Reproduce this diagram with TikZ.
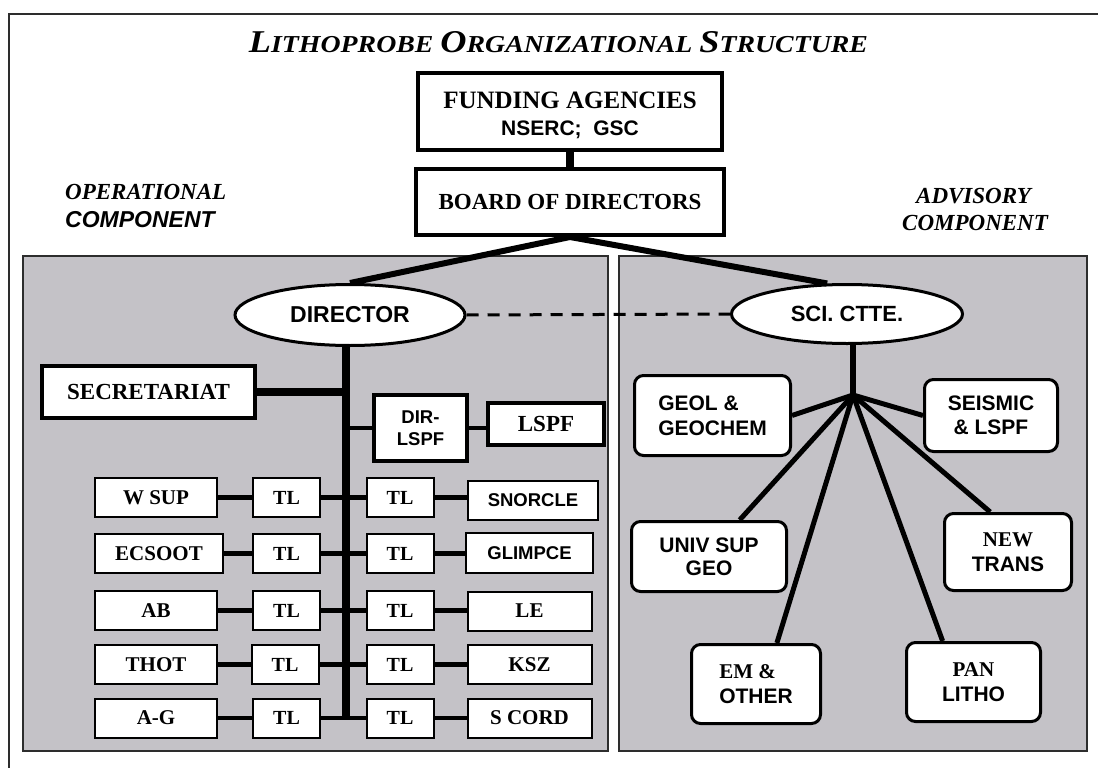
\documentclass[tikz,border=0pt]{standalone}
\usepackage{fontspec}
\setmainfont{Liberation Serif}
\setsansfont{Liberation Sans}
\usepackage{graphicx}
\usetikzlibrary{shapes.geometric}

\definecolor{panelgrey}{RGB}{196,194,199}
\definecolor{framegrey}{RGB}{45,45,45}
\newcommand{\setsize}[1]{\fontsize{#1}{#1}\selectfont}

\tikzset{
	plainbox/.style={draw, line width=2pt, fill=white, inner sep=0pt, minimum height=39pt, font=\setsize{21}\bfseries},
	tlbox/.style={plainbox, minimum width=67pt, font=\setsize{20}\bfseries},
	sansbox/.style={plainbox, font=\sffamily\setsize{18.5}\bfseries},
	heavybox/.style={draw, line width=4pt, fill=white, inner sep=0pt},
	oval/.style={ellipse, draw, line width=3pt, fill=white, inner sep=0pt, font=\sffamily\setsize{23}\bfseries},
	softbox/.style={draw, line width=3pt, fill=white, rounded corners=9pt, inner sep=0pt, align=center, font=\sffamily\setsize{21}\bfseries},
	link/.style={line width=4.5pt},
	trunk/.style={line width=8pt}
}

\begin{document}
\begin{tikzpicture}[x=1pt, y=-1pt]
	\useasboundingbox (0,0) rectangle (1098,768);
	\draw[line width=1.5pt, framegrey] (9,768) -- (9,14) -- (1098,14);
	\filldraw[fill=panelgrey, draw=framegrey, line width=1.2pt] (23,256) rectangle (608,751);
	\filldraw[fill=panelgrey, draw=framegrey, line width=1.2pt] (619,256) rectangle (1087,751);
	%
	\node[inner sep=0pt] (title) at (558.5,42) {\resizebox{619pt}{21pt}{\bfseries\itshape\setsize{30}L\setsize{23}ITHOPROBE \setsize{30}O\setsize{23}RGANIZATIONAL \setsize{30}S\setsize{23}TRUCTURE}};
	\node[anchor=base west, inner sep=0pt, font=\setsize{23}\bfseries\itshape] (oplab) at (65,199) {OPERATIONAL};
	\node[anchor=base west, inner sep=0pt, font=\sffamily\setsize{23}\bfseries\itshape] (opcomp) at (65,227) {COMPONENT};
	\node[anchor=base west, inner sep=0pt, font=\setsize{23}\bfseries\itshape] (advlab) at (916,203) {ADVISORY};
	\node[anchor=base west, inner sep=0pt, font=\setsize{23}\bfseries\itshape] (advcomp) at (902,230) {COMPONENT};
	%
	\node[heavybox, minimum width=304pt, minimum height=77pt, align=center] (fund) at (570,111.5) {\setsize{25}\bfseries\rule{0pt}{25pt}FUNDING AGENCIES\\[11pt]\sffamily\setsize{21}\bfseries NSERC;~~GSC};
	\node[heavybox, minimum width=308pt, minimum height=66pt, font=\setsize{23}\bfseries] (board) at (570,202) {BOARD OF DIRECTORS};
	\node[oval, minimum width=230pt, minimum height=61pt] (dir) at (350,315) {DIRECTOR};
	\node[oval, minimum width=231pt, minimum height=59pt, font=\sffamily\setsize{22}\bfseries] (sci) at (847,314) {SCI. CTTE.};
	\draw[trunk] (fund.south) -- (board.north);
	\draw[line width=6pt] (board.south) -- (dir.north);
	\draw[line width=6pt] (board.south) -- (sci.123);
	\draw[line width=3pt, dash pattern=on 12pt off 9pt] (dir.east) -- (sci.west);
	%
	\coordinate (tbot) at (346,718);
	\node[heavybox, minimum width=213pt, minimum height=52pt, font=\setsize{23}\bfseries] (sec) at (148.5,392) {SECRETARIAT};
	\node[heavybox, minimum width=93pt, minimum height=66pt, align=center, font=\sffamily\setsize{18.5}\bfseries] (dirlspf) at (420.5,428) {DIR-\\[3pt]LSPF};
	\node[heavybox, minimum width=116pt, minimum height=42pt, font=\setsize{23}\bfseries] (lspf) at (546,424) {LSPF};
	\draw[trunk] (dir.south -| tbot) -- (tbot);
	\draw[trunk] (sec.east) -- (sec.east -| tbot);
	\draw[link] (dirlspf.west -| tbot) -- (dirlspf.west);
	\draw[link] (dirlspf.east) -- (dirlspf.east -| lspf.west);
	%
	\node[plainbox, minimum width=122pt] (wsup) at (156,497.5) {W SUP};
	\node[tlbox] (tla1) at (286.5,497.5) {TL};
	\node[tlbox] (tlb1) at (400,497.5) {TL};
	\node[sansbox, minimum width=130pt] (snorcle) at (533,500) {SNORCLE};
	\node[plainbox, minimum width=128pt] (ecsoot) at (159,553.5) {ECSOOT};
	\node[tlbox] (tla2) at (286.5,553.5) {TL};
	\node[tlbox] (tlb2) at (400,553.5) {TL};
	\node[sansbox, minimum width=127pt, minimum height=40pt] (glimpce) at (529.5,553) {GLIMPCE};
	\node[plainbox, minimum width=122pt] (ab) at (156,610.5) {AB};
	\node[tlbox] (tla3) at (286.5,610.5) {TL};
	\node[tlbox] (tlb3) at (400,610.5) {TL};
	\node[plainbox, minimum width=124pt] (le) at (529.5,611) {LE};
	\node[plainbox, minimum width=122pt] (thot) at (156,664.5) {THOT};
	\node[tlbox] (tla4) at (285,664.5) {TL};
	\node[tlbox] (tlb4) at (400,664.5) {TL};
	\node[plainbox, minimum width=124pt] (ksz) at (529.5,664.5) {KSZ};
	\node[plainbox, minimum width=122pt] (ag) at (156,718) {A-G};
	\node[tlbox] (tla5) at (286.5,718) {TL};
	\node[tlbox] (tlb5) at (400,718) {TL};
	\node[plainbox, minimum width=124pt] (scord) at (529.5,718) {S CORD};
	%
	\draw[link] (wsup) -- (tla1) (tla1) -- (tlb1) (tlb1.east) -- (tlb1.east -| snorcle.west);
	\draw[link] (ecsoot) -- (tla2) (tla2) -- (tlb2) (tlb2.east) -- (tlb2.east -| glimpce.west);
	\draw[link] (ab) -- (tla3) (tla3) -- (tlb3) (tlb3.east) -- (tlb3.east -| le.west);
	\draw[link] (thot) -- (tla4) (tla4) -- (tlb4) (tlb4) -- (ksz);
	\draw[link] (ag) -- (tla5) (tla5) -- (tlb5) (tlb5) -- (scord);
	%
	\coordinate (hub) at (853,395);
	\node[softbox, minimum width=156pt, minimum height=80pt, align=left] (geol) at (712.5,415.5) {GEOL \&\\[4pt]GEOCHEM};
	\node[softbox, minimum width=133pt, minimum height=72pt] (seis) at (991,415.5) {SEISMIC\\[3pt]\& LSPF};
	\node[softbox, minimum width=155pt, minimum height=70pt] (univ) at (709,556.5) {UNIV SUP\\[2pt]GEO};
	\node[softbox, minimum width=127pt, minimum height=77pt] (newt) at (1008,552) {{\rmfamily NEW}\\[4pt]TRANS};
	\node[softbox, minimum width=129pt, minimum height=79pt, align=left] (em) at (756,684) {{\rmfamily EM \&}\\[4pt]OTHER};
	\node[softbox, minimum width=134pt, minimum height=79pt] (pan) at (973.5,682) {{\rmfamily PAN}\\[4pt]LITHO};
	\draw[line width=6pt] (sci.south -| hub) -- (hub);
	\draw[line width=5pt] (hub) -- (geol.east);
	\draw[line width=5pt] (hub) -- (seis.west);
	\draw[line width=5pt] (hub) -- (univ.50);
	\draw[line width=5pt] (hub) -- (newt.114);
	\draw[line width=5pt] (hub) -- (em.63);
	\draw[line width=5pt] (hub) -- (pan.127);
\end{tikzpicture}
\end{document}
